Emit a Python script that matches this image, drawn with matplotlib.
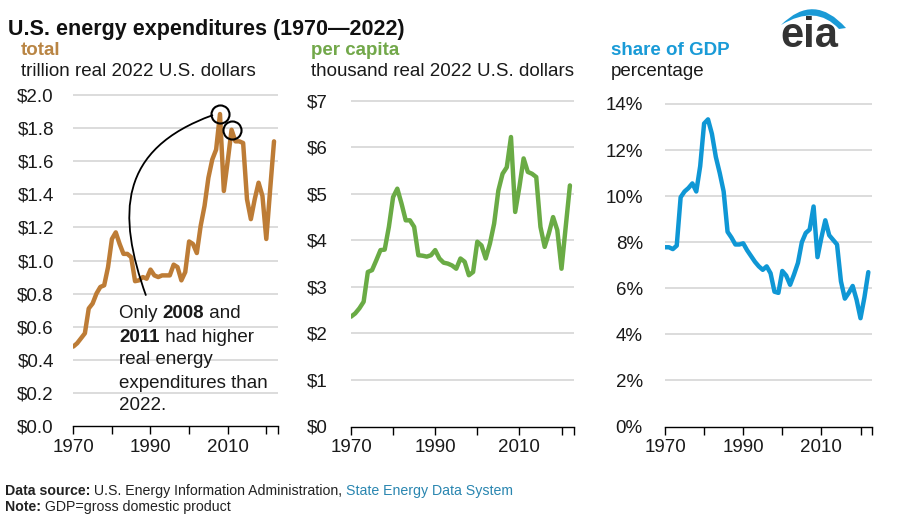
import numpy as np
import matplotlib
matplotlib.use("Agg")
import matplotlib.pyplot as plt
from matplotlib.path import Path
from matplotlib.patches import PathPatch

plt.rcParams['font.family'] = ['Liberation Sans', 'DejaVu Sans']

years = list(range(1970, 2023))
total = [0.48, 0.50, 0.53, 0.56, 0.71, 0.74, 0.80, 0.84, 0.85, 0.96,
         1.13, 1.17, 1.10, 1.04, 1.04, 1.02, 0.875, 0.88, 0.90, 0.89,
         0.945, 0.91, 0.90, 0.91, 0.91, 0.91, 0.975, 0.96, 0.88, 0.93,
         1.115, 1.10, 1.045, 1.21, 1.33, 1.50, 1.61, 1.67, 1.885, 1.42,
         1.60, 1.79, 1.72, 1.72, 1.71, 1.37, 1.25, 1.37, 1.47, 1.39,
         1.13, 1.43, 1.72]
per_capita = [2.36, 2.43, 2.54, 2.68, 3.32, 3.36, 3.57, 3.79, 3.80, 4.29,
              4.93, 5.11, 4.79, 4.43, 4.43, 4.29, 3.68, 3.67, 3.65, 3.68,
              3.79, 3.61, 3.52, 3.50, 3.46, 3.39, 3.61, 3.54, 3.25, 3.32,
              3.97, 3.89, 3.61, 3.93, 4.36, 5.07, 5.43, 5.57, 6.22, 4.61,
              5.15, 5.76, 5.47, 5.43, 5.36, 4.29, 3.86, 4.15, 4.50, 4.22,
              3.39, 4.29, 5.18]
gdp_share = [7.78, 7.78, 7.70, 7.85, 9.95, 10.2, 10.35, 10.55, 10.2, 11.3,
             13.15, 13.33, 12.7, 11.7, 11.0, 10.2, 8.45, 8.2, 7.9, 7.9,
             7.95, 7.65, 7.4, 7.15, 6.95, 6.8, 6.95, 6.65, 5.85, 5.8,
             6.75, 6.55, 6.15, 6.6, 7.1, 8.0, 8.4, 8.55, 9.55, 7.35,
             8.2, 8.95, 8.3, 8.1, 7.9, 6.3, 5.55, 5.8, 6.1, 5.5,
             4.7, 5.6, 6.7]

total_ticks = [0.0, 0.2, 0.4, 0.6, 0.8, 1.0, 1.2, 1.4, 1.6, 1.8, 2.0]
total_labels = ['$0.0', '$0.2', '$0.4', '$0.6', '$0.8', '$1.0', '$1.2',
                '$1.4', '$1.6', '$1.8', '$2.0']
pc_ticks = [0, 1, 2, 3, 4, 5, 6, 7]
pc_labels = ['$0', '$1', '$2', '$3', '$4', '$5', '$6', '$7']
gdp_ticks = [0, 2, 4, 6, 8, 10, 12, 14]
gdp_labels = ['0%', '2%', '4%', '6%', '8%', '10%', '12%', '14%']
x_ticks = [1970, 1980, 1990, 2000, 2010, 2020, 2023]
x_labels = ['1970', '', '1990', '', '2010', '', '']

BROWN = '#bd7c36'
GREEN = '#6aab45'
BLUE = '#0f97d5'
W, H = 900, 517

fig = plt.figure(figsize=(9, 5.17), dpi=100)


def px_axes(x0, x1, ybot, ytop):
    return fig.add_axes([x0 / W, 1 - ybot / H, (x1 - x0) / W, (ybot - ytop) / H])


def style(ax, yticks, ylabels, ytop, ypad):
    ax.set_xlim(1970, 2023)
    ax.set_ylim(0, ytop)
    ax.set_yticks(yticks)
    ax.set_yticklabels(ylabels)
    ax.set_xticks(x_ticks)
    ax.set_xticklabels(x_labels)
    for s in ['top', 'right', 'left']:
        ax.spines[s].set_visible(False)
    ax.spines['bottom'].set_color('black')
    ax.spines['bottom'].set_linewidth(1.0)
    ax.spines['bottom'].set_zorder(5)
    ax.tick_params(axis='y', length=0, pad=ypad, labelsize=13.5, colors='#1a1a1a')
    ax.tick_params(axis='x', length=6, width=1, pad=3, labelsize=13.5,
                   colors='black', labelcolor='#1a1a1a')
    for t in yticks[1:]:
        ax.axhline(t, color='#d9d9d9', lw=1.3, zorder=0)


# panel 1
ax1 = px_axes(73.3, 73.3 + 53 * 3.86, 426, 95 - 3.3)
style(ax1, total_ticks, total_labels, 2.02, 14)
ax1.plot(years, total, color=BROWN, lw=3.2, solid_capstyle='round',
         solid_joinstyle='round', zorder=3)
i08, i11 = years.index(2008), years.index(2011)
ax1.plot([years[i08], years[i11]], [total[i08], total[i11]], 'o', ms=13,
         mfc='none', mec='black', mew=1.5, zorder=6)


def p2d(px, py):
    return (1970 + (px - 73.3) / 3.86, (426 - py) / 165.0)


verts = [p2d(146, 296), p2d(117, 215), p2d(118, 150), p2d(213, 116)]
path = Path(verts, [Path.MOVETO, Path.CURVE4, Path.CURVE4, Path.CURVE4])
ax1.add_patch(PathPatch(path, fc='none', ec='black', lw=1.3, zorder=4,
                        clip_on=False))

# annotation text
fs = 13.5
lx, ly0, dy = 119, 314, 23
t = fig.text(lx / W, 1 - ly0 / H, 'Only ', fontsize=fs, va='center', color='#1a1a1a')
t = ax1.annotate('2008', xy=(1, 0), xycoords=t, va='bottom', fontsize=fs,
                 fontweight='bold', color='#1a1a1a')
ax1.annotate(' and', xy=(1, 0), xycoords=t, va='bottom', fontsize=fs, color='#1a1a1a')
t = fig.text(lx / W, 1 - (ly0 + dy) / H, '2011', fontsize=fs, va='center',
             fontweight='bold', color='#1a1a1a')
ax1.annotate(' had higher', xy=(1, 0), xycoords=t, va='bottom', fontsize=fs, color='#1a1a1a')
for k, line in enumerate(['real energy', 'expenditures than', '2022.']):
    fig.text(lx / W, 1 - (ly0 + dy * (k + 2)) / H, line, fontsize=fs,
             va='center', color='#1a1a1a')

# panel 2
ax2 = px_axes(351, 351 + 53 * 4.21, 426.5, 426.5 - 7.07 * 46.54)
style(ax2, pc_ticks, pc_labels, 7.07, 17)
ax2.plot(years, per_capita, color=GREEN, lw=3.2, solid_capstyle='round',
         solid_joinstyle='round', zorder=3)

# panel 3
ax3 = px_axes(665, 665 + 53 * 3.91, 426.5, 426.5 - 14.14 * 23.04)
style(ax3, gdp_ticks, gdp_labels, 14.14, 16)
ax3.plot(years, gdp_share, color=BLUE, lw=3.2, solid_capstyle='round',
         solid_joinstyle='round', zorder=3)

# titles
fig.text(8 / W, 1 - 35.5 / H, 'U.S. energy expenditures (1970\u20142022)',
         fontsize=15.5, fontweight='bold', va='baseline', color='#111111')
for x, head, col, sub in [(21, 'total', '#b98544', 'trillion real 2022 U.S. dollars'),
                          (311, 'per capita', '#72a84a', 'thousand real 2022 U.S. dollars'),
                          (611, 'share of GDP', '#1a9bd7', 'percentage')]:
    fig.text(x / W, 1 - 55 / H, head, fontsize=13.5, fontweight='bold',
             va='baseline', color=col)
    fig.text(x / W, 1 - 76 / H, sub, fontsize=13.5, va='baseline', color='#1a1a1a')

# footer
ffs = 10.2
ft = fig.text(5 / W, 1 - 491 / H, 'Data source:', fontsize=ffs, fontweight='bold',
              va='center', color='#222222')
a = ax1.annotate(' U.S. Energy Information Administration, ', xy=(1, 0), xycoords=ft,
                 va='bottom', fontsize=ffs, color='#222222')
ax1.annotate('State Energy Data System', xy=(1, 0), xycoords=a, va='bottom',
             fontsize=ffs, color='#2a86b0')
nt = fig.text(5 / W, 1 - 507 / H, 'Note:', fontsize=ffs, fontweight='bold',
              va='center', color='#222222')
ax1.annotate(' GDP=gross domestic product', xy=(1, 0), xycoords=nt, va='bottom',
             fontsize=ffs, color='#222222')


# eia logo
def f(px, py):
    return (px / W, 1 - py / H)


logo = [f(781, 25), f(814, -8), f(846, 28), f(839, 29), f(816, 4), f(781, 25)]
lp = Path(logo, [Path.MOVETO, Path.CURVE3, Path.CURVE3, Path.LINETO,
                 Path.CURVE3, Path.CURVE3])
fig.patches.append(PathPatch(lp, fc='#1a9ad6', ec='none',
                             transform=fig.transFigure, figure=fig))
fig.text(809 / W, 1 - 47 / H, 'eia', fontsize=30, fontweight='bold',
         ha='center', va='baseline', color='#333333')

fig.savefig('out.png', dpi=100)
